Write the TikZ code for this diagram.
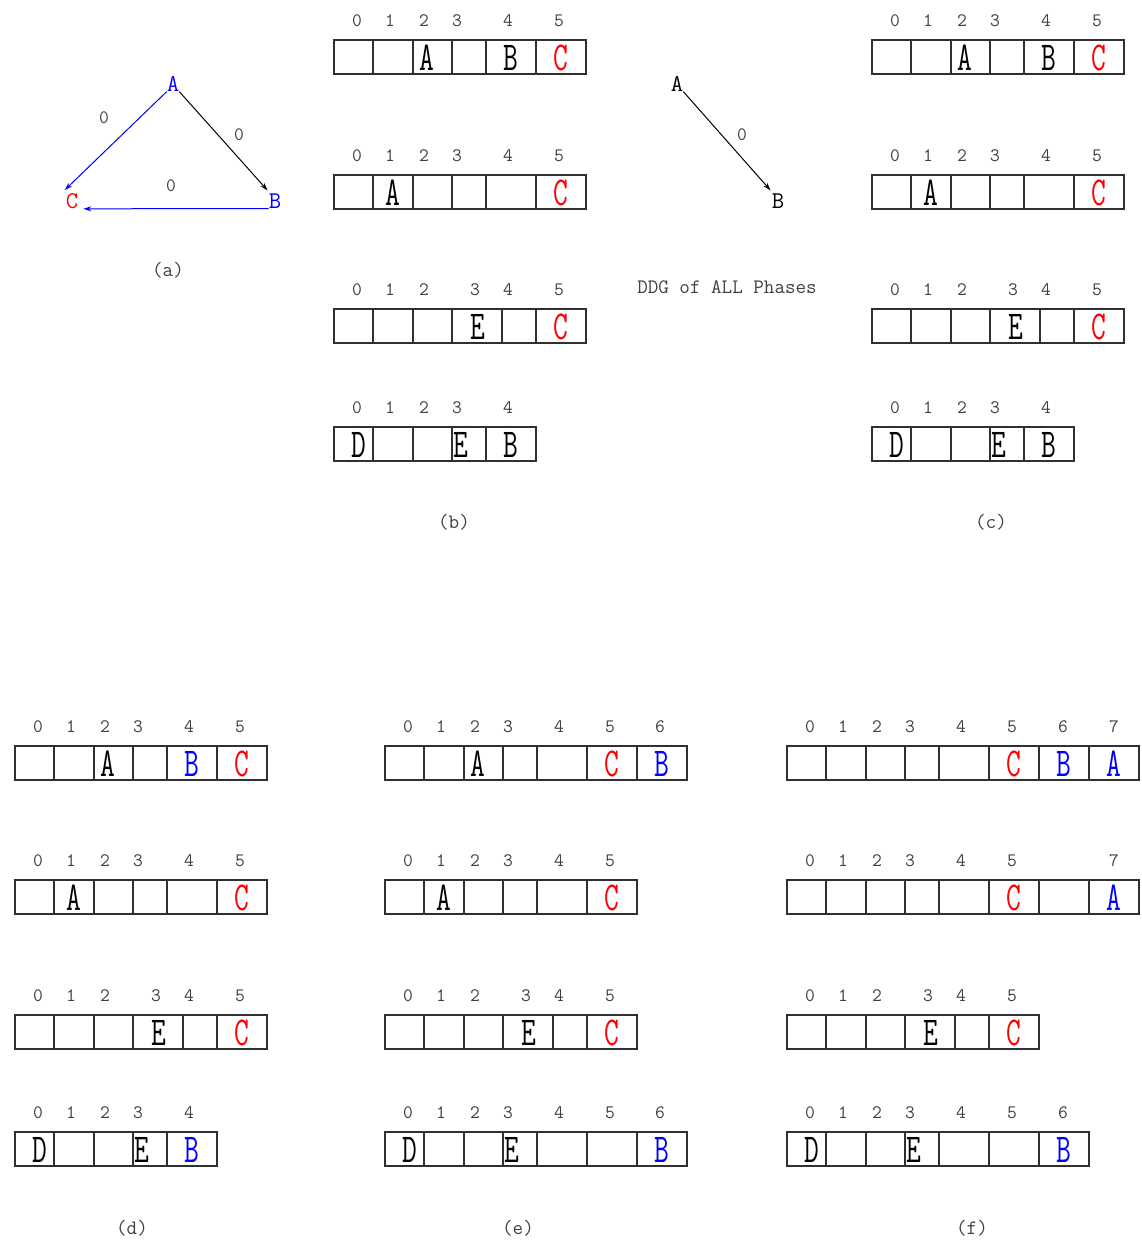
\documentclass[tikz,border=0pt]{standalone}
\usepackage{fontspec}
\usetikzlibrary{arrows.meta}
\definecolor{txt}{HTML}{404040}
\definecolor{bx}{HTML}{303030}
\definecolor{myblue}{RGB}{0,0,255}
\definecolor{myred}{RGB}{255,0,0}
\tikzset{
  cellbox/.style={draw=bx,line width=1.3pt},
  idx/.style={anchor=base,inner sep=0pt,text=txt,font=\ttfamily\fontsize{19}{19}\selectfont},
  big/.style={anchor=base,inner sep=0pt,font=\ttfamily\fontsize{41}{41}\selectfont},
  gnode/.style={inner sep=0pt,font=\ttfamily\fontsize{24}{24}\selectfont},
  elabel/.style={inner sep=0pt,text=txt,font=\ttfamily\fontsize{19}{19}\selectfont},
  capt/.style={inner sep=0pt,text=txt,font=\ttfamily\fontsize{20.5}{20.5}\selectfont},
  arr/.style={line width=1pt,-{Stealth[length=8pt,width=5pt]}}
}
% #1 row id, #2 x0, #3 top y, #4 cells, #5 labels, #6 letters
\newcommand\crow[6]{%
  \begin{scope}[shift={(#2,-#3)}]
    \edef\mycells{#4}\edef\mylabs{#5}\edef\mylets{#6}%
    \foreach \a/\b in \mycells \draw[cellbox] (\a,0) rectangle (\b,-34);
    \foreach \x/\l in \mylabs \node[idx,name=i#1-\x] at (\x,14) {\l};
    \foreach \x/\l/\c in \mylets \node[big,text=\c,name=c#1-\x] at (\x,-30) {\scalebox{0.7}[1]{\l}};
  \end{scope}}
\newcommand\cellsA{0/39,39/79,79/118,118/152,152/202,202/252}
\newcommand\cellsB{0/39,39/79,79/118,118/168,168/202,202/252}
\newcommand\cellsC{0/39,39/79,79/118,118/152,152/202}
\newcommand\labsA{23/0,56/1,90/2,123/3,174/4,225/5}
\newcommand\labsB{23/0,56/1,90/2,141/3,174/4,225/5}
\newcommand\labsC{23/0,56/1,90/2,123/3,174/4}
\begin{document}
\begin{tikzpicture}[x=1pt,y=1pt]
\useasboundingbox (0,0) rectangle (1141,-1240);

% (a) graph
\node[gnode,text=myblue] (A) at (173,-84) {A};
\node[gnode,text=myblue] (B) at (275,-201) {B};
\node[gnode,text=myred] (C) at (72,-201) {C};
\draw[arr,myblue] (A.south west) -- ([xshift=-1pt,yshift=3pt]C.north west);
\draw[arr,black] (A.south east) -- ([xshift=-1pt,yshift=3pt]B.north west);
\draw[arr,myblue] (B.south west) -- ([xshift=5pt]C.south east);
\node[elabel] (eAC) at (104,-118) {0};
\node[elabel] (eAB) at (239,-135) {0};
\node[elabel] (eBC) at (171,-186) {0};
\node[capt] (capa) at (168,-270) {(a)};

% DDG of all phases
\node[gnode] (A2) at (677,-84) {A};
\node[gnode] (B2) at (778,-201) {B};
\draw[arr,black] (A2.south east) -- ([xshift=-1pt,yshift=3pt]B2.north west);
\node[elabel] (eAB2) at (742,-135) {0};
\node[capt] (ddg) at (727,-287) {DDG of ALL Phases};

% (b)
\crow{b1}{334}{40}{\cellsA}{\labsA}{93/A/black,177/B/black,227/C/myred}
\crow{b2}{334}{175}{\cellsA}{\labsA}{59/A/black,227/C/myred}
\crow{b3}{334}{309}{\cellsB}{\labsB}{144/E/black,227/C/myred}
\crow{b4}{334}{427}{\cellsC}{\labsC}{25/D/black,127/E/black,177/B/black}
\node[capt] (capb) at (454,-522) {(b)};

% (c)
\crow{c1}{872}{40}{\cellsA}{\labsA}{93/A/black,177/B/black,227/C/myred}
\crow{c2}{872}{175}{\cellsA}{\labsA}{59/A/black,227/C/myred}
\crow{c3}{872}{309}{\cellsB}{\labsB}{144/E/black,227/C/myred}
\crow{c4}{872}{427}{\cellsC}{\labsC}{25/D/black,127/E/black,177/B/black}
\node[capt] (capc) at (991,-522) {(c)};

% (d)
\crow{d1}{15}{746}{\cellsA}{\labsA}{93/A/black,177/B/myblue,227/C/myred}
\crow{d2}{15}{880}{\cellsA}{\labsA}{59/A/black,227/C/myred}
\crow{d3}{15}{1015}{\cellsB}{\labsB}{144/E/black,227/C/myred}
\crow{d4}{15}{1132}{\cellsC}{\labsC}{25/D/black,127/E/black,177/B/myblue}
\node[capt] (capd) at (132,-1228) {(d)};

% (e)
\crow{e1}{385}{746}{\cellsA,252/302}{\labsA,275/6}{93/A/black,227/C/myred,277/B/myblue}
\crow{e2}{385}{880}{\cellsA}{\labsA}{59/A/black,227/C/myred}
\crow{e3}{385}{1015}{\cellsB}{\labsB}{144/E/black,227/C/myred}
\crow{e4}{385}{1132}{\cellsA,252/302}{\labsA,275/6}{25/D/black,127/E/black,277/B/myblue}
\node[capt] (cape) at (518,-1228) {(e)};

% (f)
\crow{f1}{787}{746}{\cellsA,252/302,302/352}{\labsA,276/6,327/7}{227/C/myred,277/B/myblue,327/A/myblue}
\crow{f2}{787}{880}{\cellsA,252/302,302/352}{\labsA,327/7}{227/C/myred,327/A/myblue}
\crow{f3}{787}{1015}{\cellsB}{\labsB}{144/E/black,227/C/myred}
\crow{f4}{787}{1132}{\cellsA,252/302}{\labsA,276/6}{25/D/black,127/E/black,277/B/myblue}
\node[capt] (capf) at (972,-1228) {(f)};
\end{tikzpicture}
\end{document}
